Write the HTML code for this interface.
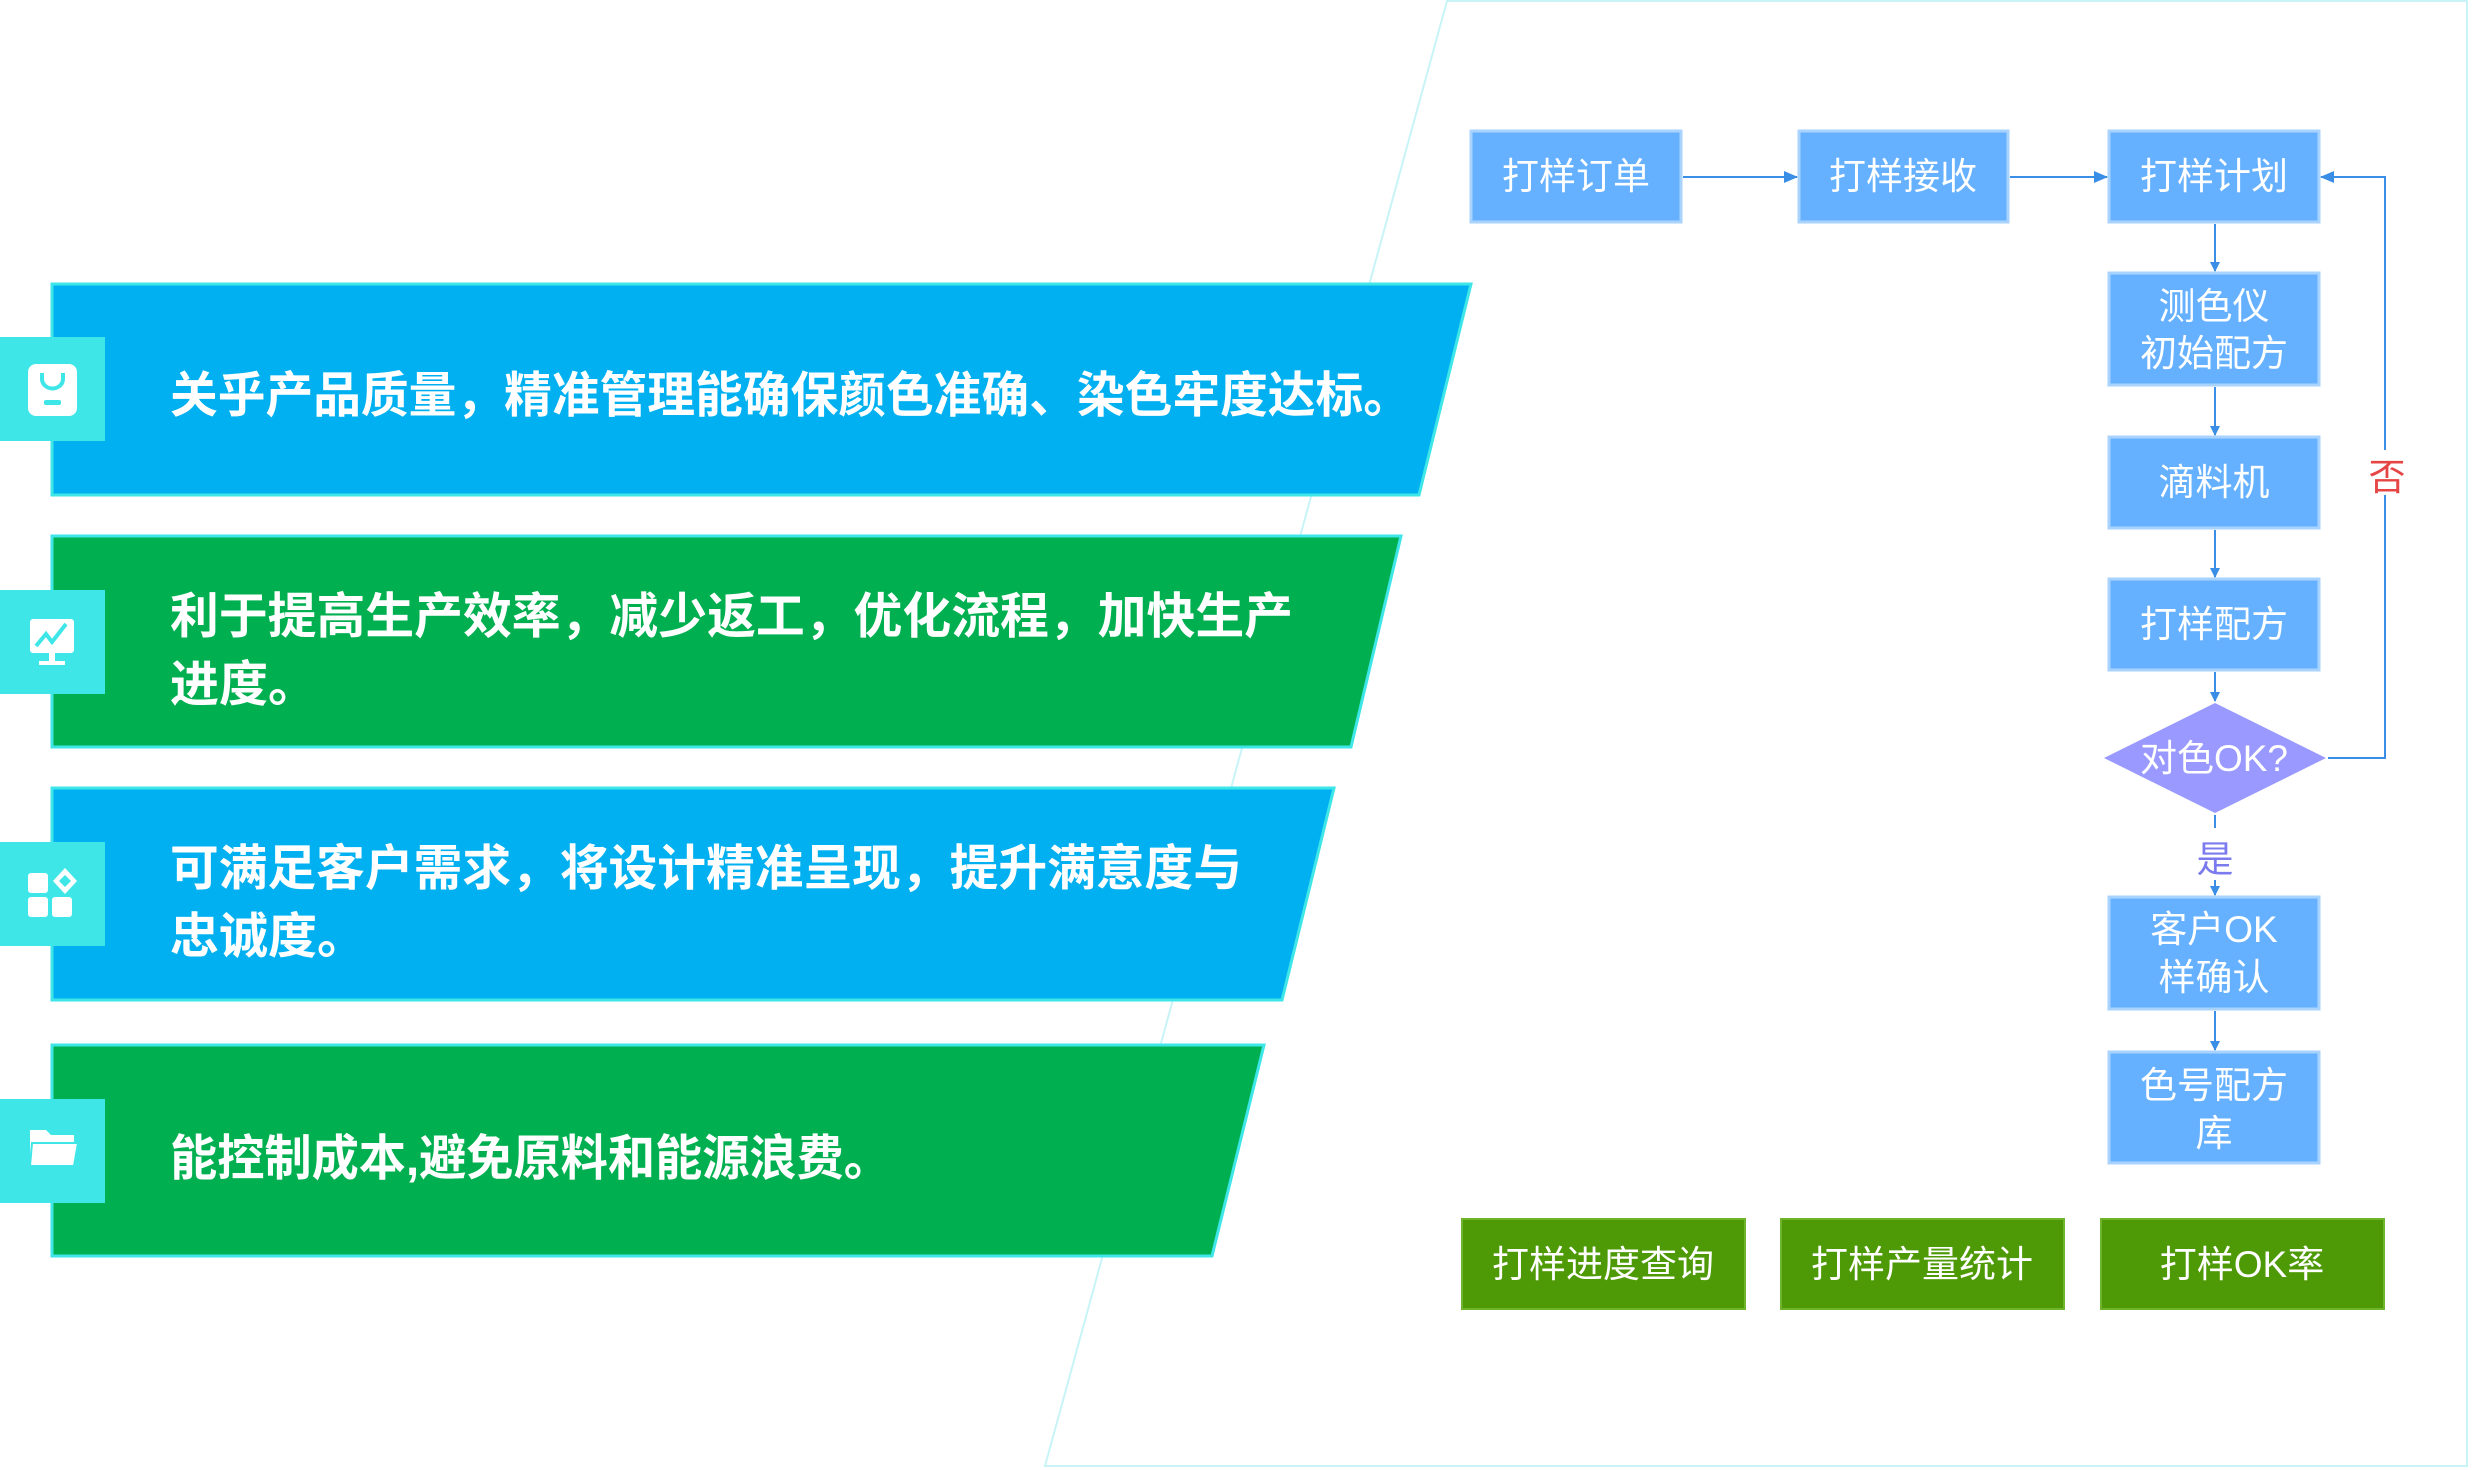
<!DOCTYPE html>
<html><head><meta charset="utf-8"><style>
html,body{margin:0;padding:0;background:#fff;}
svg{display:block;}
text{font-family:"Liberation Sans","Noto Sans CJK SC",sans-serif;}
.p{font-weight:bold;font-size:49px;fill:#fff;}
.f{font-size:37px;fill:#fff;}
.g{font-size:37px;fill:#fff;}
</style></head><body>
<svg width="2472" height="1470" viewBox="0 0 2472 1470" xmlns="http://www.w3.org/2000/svg">
<defs>
<marker id="a" markerWidth="10" markerHeight="10" refX="9" refY="5" orient="auto" markerUnits="userSpaceOnUse" viewBox="0 0 10 10">
<path d="M0,0 L10,5 L0,10 z" fill="#3a8ee6"/></marker>
<marker id="b" markerWidth="14" markerHeight="12" refX="13" refY="6" orient="auto" markerUnits="userSpaceOnUse" viewBox="0 0 14 12">
<path d="M0,0 L14,6 L0,12 z" fill="#3a8ee6"/></marker>
</defs>
<path d="M1447,1 L2467,1 L2467,1466 L1045,1466 Z" fill="none" stroke="#c8f4f8" stroke-width="2"/>
<polygon points="52,284 1471,284 1419,495 52,495" fill="#00b0f0" stroke="#3ee6e8" stroke-width="3"/>
<polygon points="52,536 1401,536 1351,747 52,747" fill="#00b050" stroke="#3ee6e8" stroke-width="3"/>
<polygon points="52,788 1334,788 1282,1000 52,1000" fill="#00b0f0" stroke="#3ee6e8" stroke-width="3"/>
<polygon points="52,1045 1264,1045 1212,1256 52,1256" fill="#00b050" stroke="#3ee6e8" stroke-width="3"/>
<rect x="0" y="337" width="105" height="104" fill="#3ee6e8"/>
<rect x="0" y="590" width="105" height="104" fill="#3ee6e8"/>
<rect x="0" y="842" width="105" height="104" fill="#3ee6e8"/>
<rect x="0" y="1099" width="105" height="104" fill="#3ee6e8"/>
<rect x="28" y="364" width="49" height="52" rx="8" fill="#fff"/>
<path d="M42,373 v6 a10,9 0 0 0 21,0 v-6" fill="none" stroke="#3ee6e8" stroke-width="4"/>
<rect x="44" y="400" width="17" height="5" rx="2" fill="#3ee6e8"/>
<rect x="30" y="619" width="44" height="34" rx="3" fill="#fff"/>
<path d="M36,646 l10,-12 l6,8 l14,-18" fill="none" stroke="#3ee6e8" stroke-width="4"/>
<rect x="49" y="653" width="6" height="10" fill="#fff"/><rect x="39" y="661" width="26" height="4" fill="#fff"/>
<rect x="28" y="873" width="20" height="20" rx="3" fill="#fff"/>
<rect x="28" y="897" width="20" height="20" rx="3" fill="#fff"/>
<rect x="52" y="897" width="20" height="20" rx="3" fill="#fff"/>
<polygon points="65,868 77,881 65,894 53,881" fill="#fff"/><polygon points="65,875 71,881 65,887 59,881" fill="#3ee6e8"/>
<path d="M30,1130 h16 l5,5 h23 v30 h-44 z" fill="#fff"/>
<path d="M32,1143 h46 l-4,23 h-44 z" fill="#fff" stroke="#3ee6e8" stroke-width="2"/>
<text class="p" x="170" y="412" textLength="1241" lengthAdjust="spacingAndGlyphs">关乎产品质量，精准管理能确保颜色准确、染色牢度达标。</text>
<text class="p" x="170" y="633" textLength="1123" lengthAdjust="spacingAndGlyphs">利于提高生产效率，减少返工，优化流程，加快生产</text>
<text class="p" x="170" y="701">进度。</text>
<text class="p" x="170" y="885" textLength="1072" lengthAdjust="spacingAndGlyphs">可满足客户需求，将设计精准呈现，提升满意度与</text>
<text class="p" x="170" y="953">忠诚度。</text>
<text class="p" x="170" y="1175" textLength="721" lengthAdjust="spacingAndGlyphs">能控制成本,避免原料和能源浪费。</text>
<g fill="#66b1ff" stroke="#a9d3ff" stroke-width="3">
<rect x="1471" y="131" width="210" height="91"/>
<rect x="1799" y="131" width="209" height="91"/>
<rect x="2109" y="131" width="210" height="91"/>
<rect x="2109" y="273" width="210" height="112"/>
<rect x="2109" y="437" width="210" height="91"/>
<rect x="2109" y="579" width="210" height="91"/>
<rect x="2109" y="897" width="210" height="112"/>
<rect x="2109" y="1052" width="210" height="111"/>
</g>
<polygon points="2215,703 2326,758 2215,813 2104,758" fill="#9999ff"/>
<g text-anchor="middle">
<text class="f" x="1576" y="189">打样订单</text>
<text class="f" x="1903" y="189">打样接收</text>
<text class="f" x="2214" y="189">打样计划</text>
<text class="f" x="2214" y="319">测色仪</text>
<text class="f" x="2214" y="366">初始配方</text>
<text class="f" x="2214" y="495">滴料机</text>
<text class="f" x="2214" y="637">打样配方</text>
<text class="f" x="2214" y="771">对色OK?</text>
<text class="f" x="2214" y="942">客户OK</text>
<text class="f" x="2214" y="990">样确认</text>
<text class="f" x="2214" y="1098">色号配方</text>
<text class="f" x="2214" y="1146">库</text>
<text x="2215" y="872" font-size="37" fill="#7b7bef">是</text>
<text x="2387" y="490" font-size="37" fill="#e64545">否</text>
</g>
<g stroke="#3a8ee6" stroke-width="2" fill="none">
<line x1="1683" y1="177" x2="1797" y2="177" marker-end="url(#b)"/>
<line x1="2010" y1="177" x2="2107" y2="177" marker-end="url(#b)"/>
<line x1="2215" y1="224" x2="2215" y2="271" marker-end="url(#a)"/>
<line x1="2215" y1="387" x2="2215" y2="435" marker-end="url(#a)"/>
<line x1="2215" y1="530" x2="2215" y2="577" marker-end="url(#a)"/>
<line x1="2215" y1="672" x2="2215" y2="701" marker-end="url(#a)"/>
<line x1="2215" y1="815" x2="2215" y2="828"/>
<line x1="2215" y1="880" x2="2215" y2="895" marker-end="url(#a)"/>
<line x1="2215" y1="1011" x2="2215" y2="1050" marker-end="url(#a)"/>
<polyline points="2328,758 2385,758 2385,495"/>
<polyline points="2385,450 2385,177 2321,177" marker-end="url(#b)"/>
</g>
<g fill="#4e9a06" stroke="#6fb52c" stroke-width="2">
<rect x="1462" y="1219" width="283" height="90"/>
<rect x="1781" y="1219" width="283" height="90"/>
<rect x="2101" y="1219" width="283" height="90"/>
</g>
<g text-anchor="middle">
<text class="g" x="1603" y="1277">打样进度查询</text>
<text class="g" x="1922" y="1277">打样产量统计</text>
<text class="g" x="2242" y="1277">打样OK率</text>
</g>
</svg>
</body></html>
